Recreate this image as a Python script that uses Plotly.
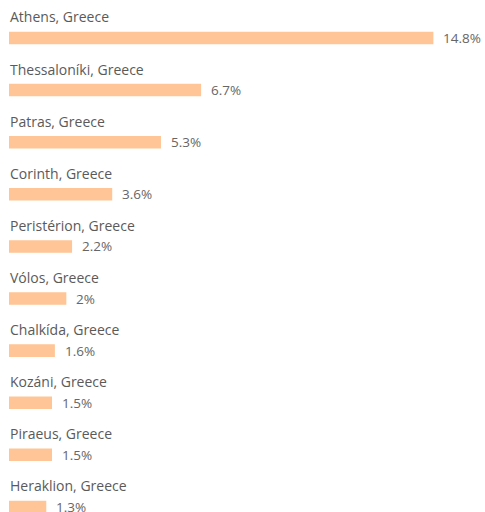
import plotly.graph_objects as go

cities = ["Athens, Greece", "Thessaloníki, Greece", "Patras, Greece", "Corinth, Greece",
          "Peristérion, Greece", "Vólos, Greece", "Chalkída, Greece", "Kozáni, Greece",
          "Piraeus, Greece", "Heraklion, Greece"]
values = [14.8, 6.7, 5.3, 3.6, 2.2, 2.0, 1.6, 1.5, 1.5, 1.3]
value_labels = ["14.8%", "6.7%", "5.3%", "3.6%", "2.2%", "2%", "1.6%", "1.5%", "1.5%", "1.3%"]

idx = list(range(len(cities)))
FONT = "Open Sans, Noto Sans, sans-serif"

fig = go.Figure(go.Bar(
    x=values, y=idx, orientation="h", width=0.24,
    marker=dict(color="#FFC596", line=dict(width=0)),
    hoverinfo="skip",
))

ann = []
for i, (c, v, t) in enumerate(zip(cities, values, value_labels)):
    ann.append(dict(x=0, y=i, xref="x", yref="y", text=c, showarrow=False,
                    xanchor="left", yanchor="middle", yshift=21, xshift=-1,
                    font=dict(family=FONT, size=14, color="#5a5a5a")))
    ann.append(dict(x=v, y=i, xref="x", yref="y", text=t, showarrow=False,
                    xanchor="left", yanchor="middle", xshift=8,
                    font=dict(family=FONT, size=13.5, color="#666666")))

fig.update_layout(
    width=485, height=512,
    margin=dict(l=9, r=0, t=0, b=0),
    paper_bgcolor="white", plot_bgcolor="white",
    showlegend=False,
    xaxis=dict(range=[0, 16.6], visible=False, fixedrange=True),
    yaxis=dict(range=[9.097, -0.729], visible=False, fixedrange=True),
    annotations=ann,
)

fig.write_html("out.html", config={"displayModeBar": False},
               post_script="document.body.style.margin='0';document.body.style.overflow='hidden';")
